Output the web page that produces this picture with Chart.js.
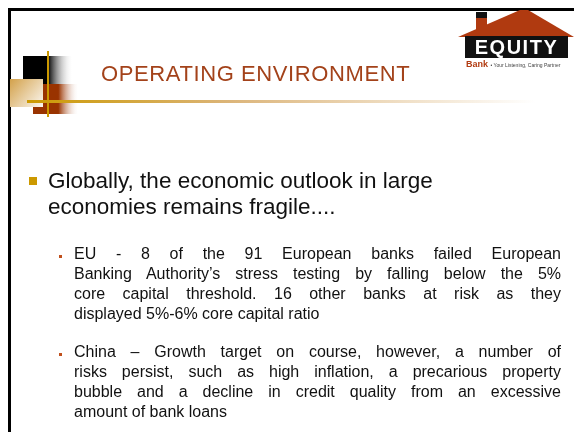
<!DOCTYPE html>
<html>
<head>
<meta charset="utf-8">
<script src="https://cdn.jsdelivr.net/npm/chart.js@4/dist/chart.umd.min.js"></script>
<style>
  html, body { margin: 0; padding: 0; background: #fff; }
  #slide { position: relative; width: 574px; height: 432px; overflow: hidden; font-family: "Liberation Sans", Arial, sans-serif; }
  #art { position: absolute; left: 0; top: 0; }
  .t { position: absolute; white-space: nowrap; }
  #title { left: 101px; top: 60px; font-size: 22px; line-height: 28px; letter-spacing: 0.6px; color: #a3421a; }
  #main { left: 48px; top: 168px; font-size: 22.5px; line-height: 26px; color: #111; }
  .sub { position: absolute; left: 74px; width: 487px; font-size: 16px; line-height: 20px; color: #111; }
  .sub div { text-align: justify; text-align-last: justify; white-space: nowrap; }
  .sub div.last { text-align-last: left; }
  .mk { position: absolute; width: 3px; height: 3px; background: #c0501c; }
  #eq { left: 465px; top: 36px; width: 103px; font-size: 20px; line-height: 22px; font-weight: bold; color: #fff; text-align: center; letter-spacing: 1.5px; }
  #bank { left: 466px; top: 59px; font-size: 9px; line-height: 10px; font-weight: bold; color: #b23c12; }
  #bank span { font-size: 5px; font-weight: normal; color: #444; }
</style>
</head>
<body>
<div id="slide">
  <canvas id="art" width="574" height="432"></canvas>
  <div class="t" id="title"></div>
  <div class="t" id="main"></div>
  <div class="sub" id="sub1"></div>
  <div class="sub" id="sub2"></div>
  <div class="mk" style="left:59px; top:255px;"></div>
  <div class="mk" style="left:59px; top:353px;"></div>
  <div class="t" id="eq">EQUITY</div>
  <div class="t" id="bank">Bank <span>• Your Listening, Caring Partner</span></div>
</div>
<script>
const titleText = "OPERATING ENVIRONMENT";
const mainLines = ["Globally, the economic outlook in large", "economies remains fragile...."];
const euLines = [
  "EU - 8 of the 91 European banks failed European",
  "Banking Authority’s stress testing by falling below the 5%",
  "core capital threshold. 16 other banks at risk as they",
  "displayed 5%-6% core capital ratio"
];
const chinaLines = [
  "China – Growth target on course, however, a number of",
  "risks persist, such as high inflation, a precarious property",
  "bubble and a decline in credit quality from an excessive",
  "amount of bank loans"
];

document.getElementById("title").textContent = titleText;
document.getElementById("main").innerHTML = mainLines.join("<br>");

function fillBlock(el, lines, top) {
  el.style.top = top + "px";
  lines.forEach(function (line, i) {
    const d = document.createElement("div");
    d.textContent = line;
    if (i === lines.length - 1) d.className = "last";
    el.appendChild(d);
  });
}
fillBlock(document.getElementById("sub1"), euLines, 244);
fillBlock(document.getElementById("sub2"), chinaLines, 342);

// slide decorations drawn by a Chart.js plugin
const slideArt = {
  id: "slideArt",
  beforeDraw(chart) {
    const ctx = chart.ctx;
    ctx.save();

    // frame
    ctx.fillStyle = "#000";
    ctx.fillRect(8, 8, 566, 3);
    ctx.fillRect(8, 8, 3, 424);

    // black block
    let g = ctx.createLinearGradient(23, 0, 73, 0);
    g.addColorStop(0, "#000");
    g.addColorStop(0.5, "#000");
    g.addColorStop(1, "rgba(255,255,255,0)");
    ctx.fillStyle = g;
    ctx.fillRect(23, 56, 50, 28);

    // rust block
    g = ctx.createLinearGradient(33, 0, 79, 0);
    g.addColorStop(0, "#993300");
    g.addColorStop(0.55, "#993300");
    g.addColorStop(1, "rgba(255,255,255,0)");
    ctx.fillStyle = g;
    ctx.fillRect(33, 84, 46, 30);

    // tan block
    g = ctx.createLinearGradient(10, 79, 43, 107);
    g.addColorStop(0, "#d3a14a");
    g.addColorStop(1, "#fbf7f1");
    ctx.fillStyle = g;
    ctx.fillRect(10, 79, 33, 28);

    // gold lines
    ctx.fillStyle = "#cc9900";
    ctx.fillRect(47, 51, 2, 66);
    g = ctx.createLinearGradient(27, 0, 535, 0);
    g.addColorStop(0, "#cc9900");
    g.addColorStop(0.4, "#dcb57a");
    g.addColorStop(1, "#ffffff");
    ctx.fillStyle = g;
    ctx.fillRect(27, 100, 508, 3);

    // main bullet
    ctx.fillStyle = "#cc9900";
    ctx.fillRect(29, 177, 8, 8);

    // logo roof
    ctx.fillStyle = "#b03a10";
    ctx.beginPath();
    ctx.moveTo(458, 37);
    ctx.lineTo(520, 10);
    ctx.lineTo(528, 10);
    ctx.lineTo(574, 37);
    ctx.closePath();
    ctx.fill();
    ctx.fillRect(476, 16, 11, 16);
    ctx.fillStyle = "#111";
    ctx.fillRect(476, 12, 11, 6);
    ctx.fillRect(465, 36, 103, 22);

    ctx.restore();
  }
};

new Chart(document.getElementById("art"), {
  type: "bar",
  data: { labels: [], datasets: [] },
  options: {
    responsive: false,
    animation: false,
    events: [],
    scales: { x: { display: false }, y: { display: false } },
    plugins: { legend: { display: false }, tooltip: { enabled: false } }
  },
  plugins: [slideArt]
});
</script>
</body>
</html>
